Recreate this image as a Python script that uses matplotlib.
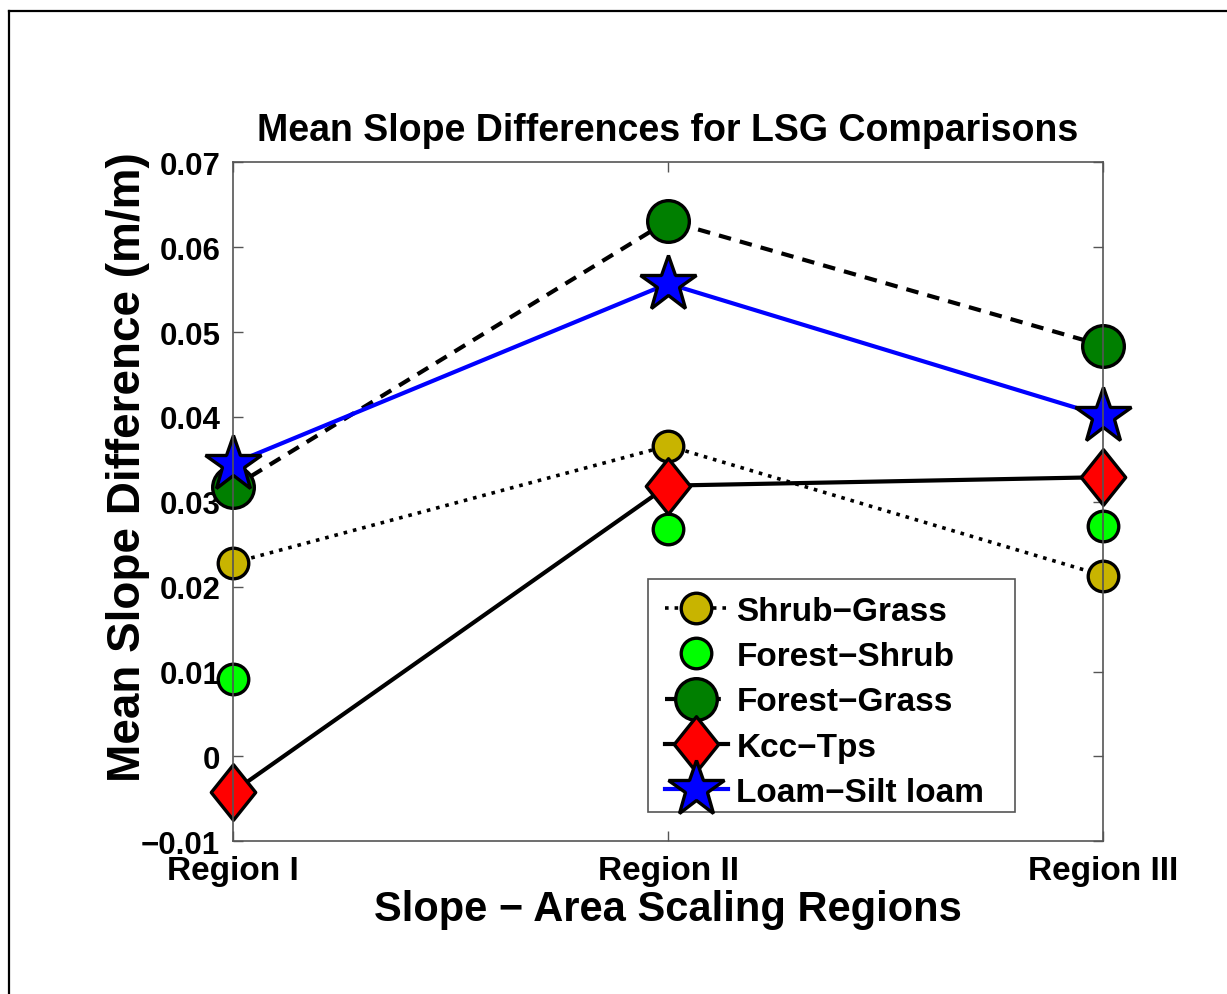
import numpy as np
import matplotlib
matplotlib.use('Agg')
import matplotlib.pyplot as plt
from matplotlib.lines import Line2D
from matplotlib.patches import Rectangle
from matplotlib.path import Path

plt.rcParams['font.family'] = ['Liberation Sans', 'DejaVu Sans']
plt.rcParams['font.weight'] = 'bold'

# Mean slope differences per scaling region
regions = ['Region I', 'Region II', 'Region III']
shrub_grass = [0.0228, 0.0366, 0.0213]
forest_shrub = [0.0091, 0.0268, 0.0272]
forest_grass = [0.0317, 0.0631, 0.0484]
kcc_tps = [-0.0042, 0.0319, 0.0329]
loam_silt = [0.0345, 0.0557, 0.0401]

x = np.arange(1, len(regions) + 1)

W, H = 1227, 995

# matlab style diamond, a bit taller than wide
diamond = Path([(0, 1), (0.8, 0), (0, -1), (-0.8, 0), (0, 1)],
               [Path.MOVETO, Path.LINETO, Path.LINETO, Path.LINETO, Path.CLOSEPOLY])

fig = plt.figure(figsize=(W / 100, H / 100), dpi=100)
ax = fig.add_axes([0.1897, 0.1535, 0.7095, 0.6824])

lw = 3.0
mew = 2.4
ax.plot(x, shrub_grass, linestyle=':', color='black', lw=2.6, marker='o', ms=22,
        mfc='#c8b400', mec='black', mew=mew, clip_on=False, label='Shrub\u2212Grass')
ax.plot(x, forest_shrub, linestyle='none', marker='o', ms=22,
        mfc='#00ff00', mec='black', mew=mew, clip_on=False, label='Forest\u2212Shrub')
ax.plot(x, forest_grass, linestyle='--', dashes=(3, 2.2), color='black', lw=lw, marker='o', ms=30,
        mfc='#007f00', mec='black', mew=mew, clip_on=False, label='Forest\u2212Grass')
ax.plot(x, kcc_tps, linestyle='-', color='black', lw=lw, marker=diamond, ms=40,
        mfc='red', mec='black', mew=mew, clip_on=False, label='Kcc\u2212Tps')
ax.plot(x, loam_silt, linestyle='-', color='#0000ff', lw=lw, marker='*', ms=42,
        mfc='#0000ff', mec='black', mew=mew, clip_on=False, label='Loam\u2212Silt loam')

ax.set_xlim(1, 3)
ax.set_ylim(-0.01, 0.07)
ax.set_xticks(x)
ax.set_xticklabels(regions, fontsize=24)
ax.set_yticks(np.arange(-0.01, 0.0701, 0.01))
ax.set_yticklabels(['\u22120.01', '0', '0.01', '0.02', '0.03', '0.04', '0.05', '0.06', '0.07'],
                   fontsize=22.5)
ax.tick_params(direction='in', length=7, width=1, color='#555555',
               top=True, right=True)
ax.tick_params(axis='y', pad=9)
ax.tick_params(axis='x', pad=10)
for s in ax.spines.values():
    s.set_color('#555555')
    s.set_linewidth(1.2)

ax.set_title('Mean Slope Differences for LSG Comparisons', fontsize=27, fontweight='bold', pad=16)
ax.set_xlabel('Slope \u2212 Area Scaling Regions', fontsize=30, fontweight='bold', labelpad=2)
ax.set_ylabel('Mean Slope Difference (m/m)', fontsize=33, fontweight='bold')
ax.yaxis.set_label_coords(-0.095, 0.553)

# legend box drawn separately so it can be wider than its entries
ax.add_patch(Rectangle((648 / W, 1 - 813 / H), (1015 - 648) / W, (813 - 580) / H,
                       transform=fig.transFigure, facecolor='white', edgecolor='#555555',
                       lw=1.2, zorder=4, clip_on=False))
leg = ax.legend(loc='upper left', bbox_to_anchor=(648 / W, 1 - 580 / H),
                bbox_transform=fig.transFigure, fontsize=24, frameon=False,
                handlelength=1.9, handletextpad=0.25,
                labelspacing=0.43, borderpad=0.5, borderaxespad=0)
leg.set_zorder(5)

# outer frame lines along top and left edge
fig.add_artist(Line2D([9 / W, 1], [1 - 12 / H, 1 - 12 / H], color='black', lw=1.6,
                      transform=fig.transFigure))
fig.add_artist(Line2D([9 / W, 9 / W], [0, 1 - 12 / H], color='black', lw=1.6,
                      transform=fig.transFigure))

fig.savefig('out.png', dpi=100)
